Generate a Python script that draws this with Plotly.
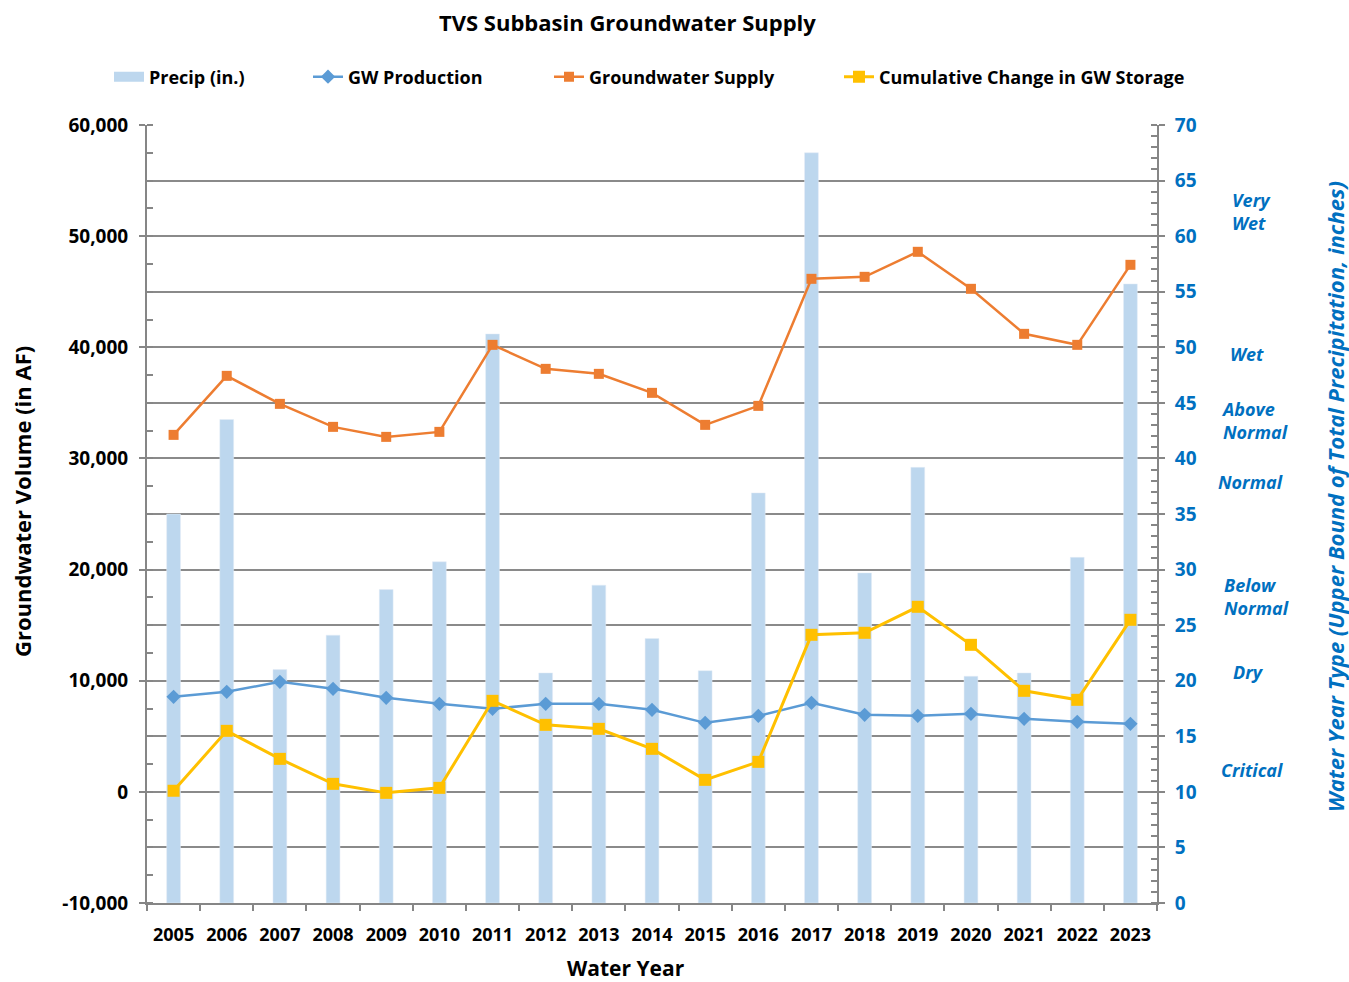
import plotly.graph_objects as go

years = ["2005","2006","2007","2008","2009","2010","2011","2012","2013","2014",
         "2015","2016","2017","2018","2019","2020","2021","2022","2023"]
precip_in = [35.0, 43.5, 21.0, 24.1, 28.2, 30.7, 51.2, 20.7, 28.6, 23.8,
             20.9, 36.9, 67.5, 29.7, 39.2, 20.4, 20.7, 31.1, 55.7]
gw_production = [8550, 9000, 9900, 9270, 8460, 7920, 7470, 7920, 7920, 7380,
                 6210, 6840, 8010, 6930, 6840, 7020, 6570, 6300, 6120]
gw_supply = [32120, 37430, 34910, 32840, 31940, 32390, 40220, 38060, 37610, 35900,
             33020, 34730, 46160, 46340, 48590, 45260, 41210, 40220, 47420]
cum_change = [100, 5490, 2970, 720, -90, 360, 8190, 6030, 5670, 3870,
              1080, 2700, 14130, 14310, 16650, 13230, 9090, 8280, 15480]

gw_tickvals = [-10000, 0, 10000, 20000, 30000, 40000, 50000, 60000]
gw_ticktext = ["-10,000", "0", "10,000", "20,000", "30,000", "40,000", "50,000", "60,000"]

wy_types = ["Very<br>Wet", "Wet", "Above<br>Normal", "Normal", "Below<br>Normal", "Dry", "Critical"]
wy_label_y = [62.2, 49.4, 43.4, 37.9, 27.6, 20.8, 12.0]
wy_label_xpx = [1230, 1228, 1219, 1216, 1222, 1231, 1219]

FONT = "Open Sans"
BLUE_TXT = "#0070C0"
GRID = "#8a8a8a"
AX = "#868686"

W, H = 1349, 982
# plot area edges in reference pixels
L, R, T, B = 147, 1157, 125, 903
PW, PH = R - L, B - T

def xp(px):  # px -> x paper
    return (px - L) / PW

def yp(py):  # px -> y paper
    return (B - py) / PH

fig = go.Figure()
fig.add_trace(go.Bar(x=years, y=precip_in, name="Precip (in.)", marker_color="#BDD7EE",
                     width=0.26, yaxis="y", showlegend=False))
# legend entry styled like the wide swatch of the original
fig.add_trace(go.Scatter(x=[None], y=[None], name="Precip (in.)", mode="lines",
                         line=dict(color="#BDD7EE", width=14), yaxis="y", legend="legend"))
fig.add_trace(go.Scatter(x=years, y=gw_production, name="GW Production", mode="lines+markers",
                         line=dict(color="#5B9BD5", width=2.5),
                         marker=dict(symbol="diamond", size=11, color="#5B9BD5"),
                         yaxis="y2", legend="legend2"))
fig.add_trace(go.Scatter(x=years, y=gw_supply, name="Groundwater Supply", mode="lines+markers",
                         line=dict(color="#ED7D31", width=2.5),
                         marker=dict(symbol="square", size=10, color="#ED7D31"),
                         yaxis="y2", legend="legend3"))
fig.add_trace(go.Scatter(x=years, y=cum_change, name="Cumulative Change in GW Storage", mode="lines+markers",
                         line=dict(color="#FFC000", width=3),
                         marker=dict(symbol="square", size=12, color="#FFC000"),
                         yaxis="y2", legend="legend4"))

leg_common = dict(orientation="h", yanchor="middle", xanchor="left",
                  font=dict(family=FONT, size=18, color="black", weight="bold"),
                  bgcolor="rgba(0,0,0,0)", itemwidth=30)
leg_x_px = [109, 308, 549, 839]
layout_legends = {}
for i, lx in enumerate(leg_x_px):
    key = "legend" if i == 0 else f"legend{i+1}"
    layout_legends[key] = dict(leg_common, x=xp(lx), y=yp(77))

annotations = []
for t, yv, xpx in zip(wy_types, wy_label_y, wy_label_xpx):
    annotations.append(dict(text=t, x=xp(xpx), xref="paper",
                            y=yv, yref="y", xanchor="left", yanchor="middle", align="left",
                            showarrow=False,
                            font=dict(family=FONT, size=18, color=BLUE_TXT, weight="bold", style="italic")))
annotations.append(dict(text="Groundwater Volume (in AF)", textangle=-90,
                        x=xp(22), xref="paper", xanchor="center",
                        y=yp(502), yref="paper", yanchor="middle", showarrow=False,
                        font=dict(family=FONT, size=22, color="black", weight="bold")))
annotations.append(dict(text="Water Year Type (Upper Bound of Total Precipitation, inches)",
                        textangle=-90, x=xp(1335), xref="paper", xanchor="center",
                        y=yp(497), yref="paper", yanchor="middle", showarrow=False,
                        font=dict(family=FONT, size=22, color=BLUE_TXT, weight="bold", style="italic")))
annotations.append(dict(text="Water Year", x=xp(626), xref="paper", xanchor="center",
                        y=yp(968), yref="paper", yanchor="middle", showarrow=False,
                        font=dict(family=FONT, size=21, color="black", weight="bold")))
annotations.append(dict(text="TVS Subbasin Groundwater Supply", x=xp(627), xref="paper",
                        xanchor="center", y=yp(22), yref="paper", yanchor="middle", showarrow=False,
                        font=dict(family=FONT, size=22, color="black", weight="bold")))

fig.update_layout(
    width=W, height=H,
    margin=dict(l=L, r=W - R, t=T, b=H - B),
    paper_bgcolor="white", plot_bgcolor="white",
    font=dict(family=FONT, color="black"),
    showlegend=True,
    xaxis=dict(type="category", showline=True, linecolor=AX, linewidth=2, ticks="outside",
               tickson="boundaries", ticklen=6, tickcolor=AX, tickwidth=2, tickangle=0,
               tickfont=dict(family=FONT, size=18, color="black", weight="bold"), showgrid=False,
               ticklabelstandoff=14, range=[-0.5, 18.5]),
    yaxis=dict(side="right", range=[0, 70], dtick=5, showgrid=True, gridcolor=GRID, gridwidth=1.6,
               showline=True, linecolor=AX, linewidth=2, ticks="outside", ticklen=6, tickcolor=AX,
               tickwidth=2, tickfont=dict(family=FONT, size=19, color=BLUE_TXT, weight="bold"),
               zeroline=False, ticklabelstandoff=6,
               minor=dict(ticks="inside", dtick=1, ticklen=6, tickcolor=AX, tickwidth=1.5, showgrid=False)),
    yaxis2=dict(side="left", overlaying="y", range=[-10000, 60000], tickvals=gw_tickvals,
                ticktext=gw_ticktext, showgrid=False,
                showline=True, linecolor=AX, linewidth=2, ticks="outside", ticklen=6, tickcolor=AX,
                tickwidth=2, tickfont=dict(family=FONT, size=19, color="black", weight="bold"),
                zeroline=False, ticklabelstandoff=7,
                minor=dict(ticks="inside", dtick=2500, ticklen=6, tickcolor=AX, tickwidth=1.5, showgrid=False)),
    annotations=annotations,
    **layout_legends,
)

fig.write_html("out.html",
               config={"displayModeBar": False},
               post_script="document.body.style.margin='0';"
                           "document.body.style.overflow='hidden';"
                           "document.documentElement.style.overflow='hidden';")
